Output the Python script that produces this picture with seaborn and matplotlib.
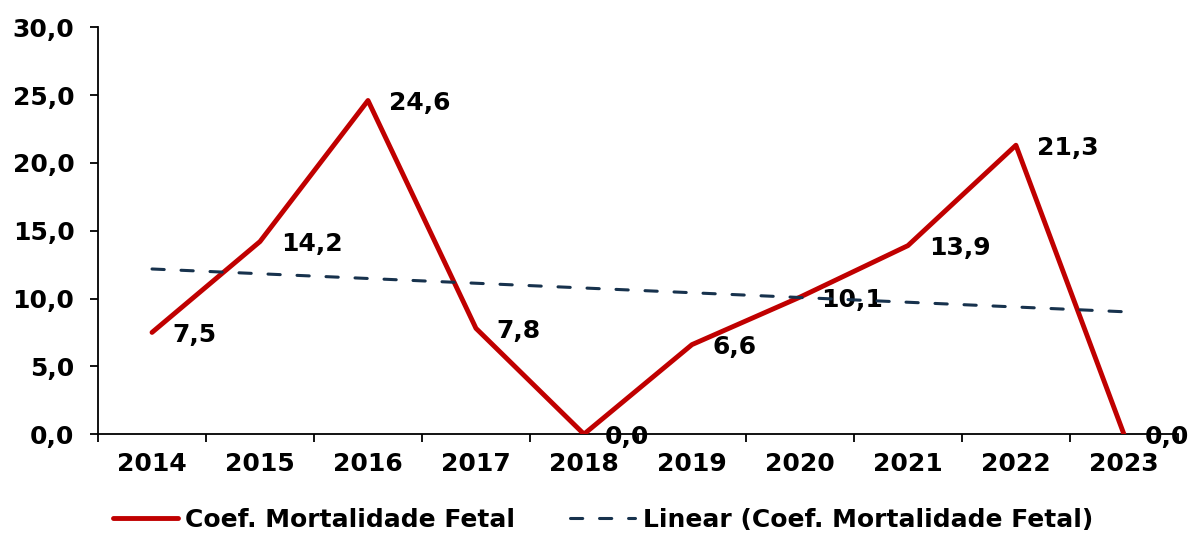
import numpy as np
import pandas as pd

import matplotlib.pyplot as plt
import seaborn as sns

# data
anos = ['2014', '2015', '2016', '2017', '2018', '2019', '2020', '2021', '2022', '2023']
coef = [7.5, 14.2, 24.6, 7.8, 0.0, 6.6, 10.1, 13.9, 21.3, 0.0]

serie = 'Coef. Mortalidade Fetal'
tendencia = 'Linear (Coef. Mortalidade Fetal)'

RED = '#C00000'
NAVY = '#17324D'
FS = 18

sns.set_theme(style='white')
plt.rcParams['font.family'] = ['DejaVu Sans']
plt.rcParams['font.weight'] = 'bold'
plt.rcParams['text.color'] = 'black'
plt.rcParams['xtick.color'] = 'black'
plt.rcParams['ytick.color'] = 'black'

df = pd.DataFrame({'x': np.arange(len(anos)), 'ano': anos, 'valor': coef})

# linear trend, same as Excel's trendline
a, b = np.polyfit(df['x'], df['valor'], 1)
df['trend'] = a * df['x'] + b

fig = plt.figure(figsize=(11.91, 5.34), dpi=100)
ax = fig.add_axes([0.0823, 0.187, 0.9067, 0.762])

sns.lineplot(data=df, x='x', y='valor', ax=ax, color=RED, linewidth=3.5,
             label=serie, zorder=3)
sns.lineplot(data=df, x='x', y='trend', ax=ax, color=NAVY, linewidth=2.2,
             label=tendencia, zorder=4)
ax.lines[1].set_dashes((4, 5.5))
ax.lines[1].set_dash_capstyle('round')

for xi, v in zip(df['x'], df['valor']):
    ax.annotate(f'{v:.1f}'.replace('.', ','), (xi, v), xytext=(15, -2),
                textcoords='offset points', ha='left', va='center',
                fontsize=FS, fontweight='bold', color='black', zorder=2,
                annotation_clip=False)

ax.set_xlim(-0.5, len(anos) - 0.5)
ax.set_ylim(0, 30)
ax.set_yticks(np.arange(0, 31, 5))
ax.set_yticklabels([f'{t:.1f}'.replace('.', ',') for t in np.arange(0, 31, 5)])

# labels at centers, tick marks at category boundaries
ax.set_xticks(np.arange(len(anos)))
ax.set_xticklabels(anos)
ax.set_xticks(np.arange(-0.5, len(anos)), minor=True)
ax.tick_params(axis='x', which='major', length=0, pad=13, labelsize=FS)
ax.tick_params(axis='x', which='minor', length=6, width=1.3, color='black',
               direction='out', bottom=True)
ax.tick_params(axis='y', length=6, width=1.3, color='black', direction='out',
               left=True, labelsize=FS, pad=11)

ax.set_xlabel('')
ax.set_ylabel('')
for s in ['top', 'right']:
    ax.spines[s].set_visible(False)
for s in ['left', 'bottom']:
    ax.spines[s].set_color('black')
    ax.spines[s].set_linewidth(1.3)

ax.legend_.remove()
h, l = ax.get_legend_handles_labels()
leg = fig.legend(h, l, loc='center', bbox_to_anchor=(0.506, 0.026), ncol=2,
                 frameon=False, fontsize=FS, handlelength=2.6,
                 handletextpad=0.3, columnspacing=2.2)

fig.savefig('out.png', dpi=100)
